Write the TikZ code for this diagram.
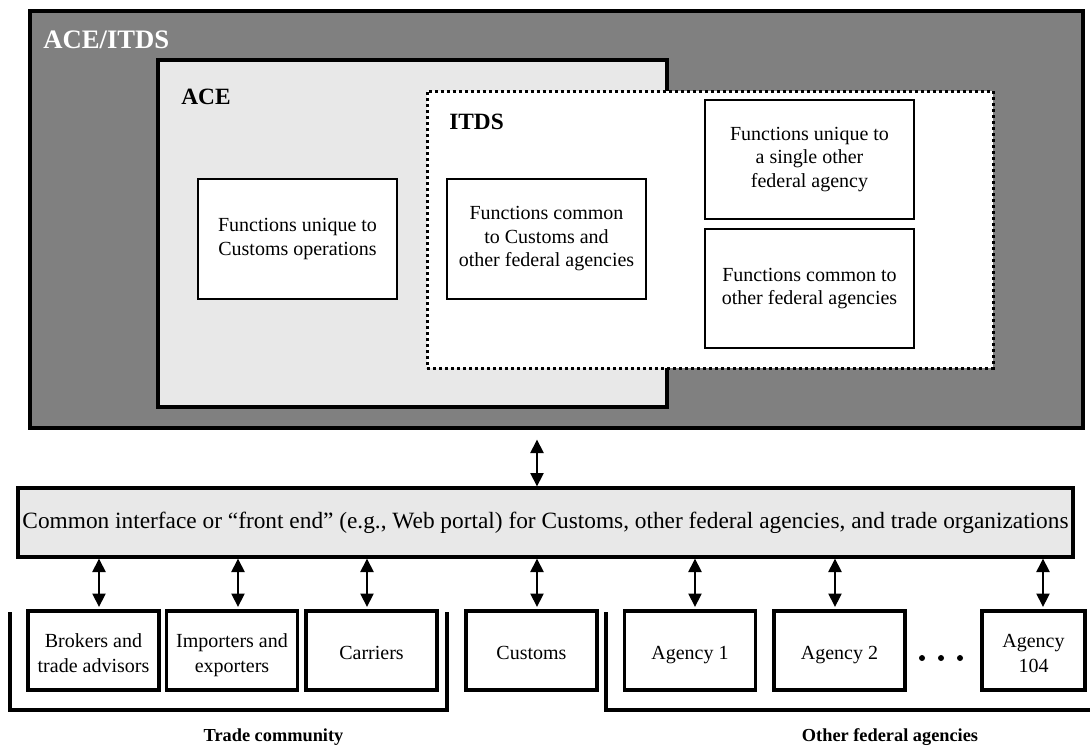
\documentclass[tikz,border=0pt]{standalone}
\usepackage{fontspec}
\setmainfont{Liberation Serif}
\usetikzlibrary{arrows.meta}

\definecolor{darkfill}{HTML}{808080}
\definecolor{lightfill}{HTML}{E8E8E8}
\newcommand{\tophi}{\rule{0pt}{13.8pt}}
\newcommand{\botlo}{\rule[-3pt]{0pt}{3pt}}

\begin{document}
\begin{tikzpicture}[x=0.6pt, y=-0.6pt,
    thickbox/.style={draw, line width=2pt, inner sep=0pt},
    funcbox/.style={draw, fill=white, line width=0.7pt, align=center, inner sep=0pt,
      font=\fontsize{12}{14.1}\selectfont},
    partbox/.style={thickbox, fill=white, align=center, minimum width=78.6pt,
      minimum height=47.4pt, font=\fontsize{12}{15}\selectfont},
    link/.style={{Triangle[width=8pt,length=8pt]}-{Triangle[width=8pt,length=8pt]},
      line width=0.8pt},
    bracket/.style={line width=2.4pt},
    title/.style={anchor=base west, inner sep=0pt, font=\bfseries\fontsize{14}{16}\selectfont},
    group/.style={font=\bfseries\fontsize{11}{13}\selectfont}]
  \useasboundingbox (0,0) rectangle (1090,749);

  % ACE/ITDS system
  \node[thickbox, fill=darkfill, minimum width=631.8pt, minimum height=250.2pt]
    (aceitds) at (556.5,219.5) {};
  \node[title, text=white, font=\bfseries\fontsize{16}{18}\selectfont] (aceitdslbl) at (43,48) {ACE/ITDS};

  % ACE
  \node[thickbox, fill=lightfill, minimum width=305.4pt, minimum height=208.2pt]
    (ace) at (412.5,233.5) {};
  \node[title] (acelbl) at (181,104) {ACE};

  % ITDS
  \node[draw, fill=white, line width=1.8pt, dash pattern=on 1.8pt off 1.8pt, inner sep=0pt,
    minimum width=339.6pt, minimum height=166.2pt] (itds) at (710,229.5) {};
  \node[title] (itdslbl) at (449,129) {ITDS};

  % Functions
  \node[funcbox, minimum width=119.4pt, minimum height=72pt] (uniq) at (297.5,239)
    {Functions unique to\\Customs operations};
  \node[funcbox, minimum width=119.4pt, minimum height=72pt] (common) at (546.5,239)
    {Functions common\\to Customs and\\other federal agencies};
  \node[funcbox, minimum width=125.4pt, minimum height=71.4pt] (single) at (809.5,159.5)
    {Functions unique to\\a single other\\federal agency};
  \node[funcbox, minimum width=125.4pt, minimum height=71.4pt] (othercommon) at (809.5,288.5)
    {Functions common to\\other federal agencies};

  % Front end
  \node[thickbox, fill=lightfill, minimum width=633pt, minimum height=41.4pt,
    font=\fontsize{14}{16}\selectfont] (iface) at (545.5,522.5)
    {Common interface or ``front end'' (e.g., Web portal) for Customs, other federal agencies, and trade organizations};
  \draw[link, shorten <=6pt] (aceitds.south -| 537,0) -- (iface.north -| 537,0);

  % Users
  \node[partbox] (brokers) at (93.5,650.5) {\tophi Brokers and\\trade advisors\botlo};
  \node[partbox] (importers) at (232,650.5) {\tophi Importers and\\exporters\botlo};
  \node[partbox] (carriers) at (371.5,650.5) {\tophi Carriers\botlo};
  \node[partbox] (customs) at (531.5,650.5) {\tophi Customs\botlo};
  \node[partbox] (agencyA) at (690,650.5) {\tophi Agency 1\botlo};
  \node[partbox] (agencyB) at (839.5,650.5) {\tophi Agency 2\botlo};
  \node[partbox, minimum width=61.8pt] (agencyC) at (1033.5,650.5) {\tophi Agency\\104\botlo};

  \foreach \b/\x in {brokers/99, importers/238, carriers/367, customs/537,
                     agencyA/695, agencyB/835, agencyC/1043}
    \draw[link, shorten >=1.5pt] (iface.south -| \x,0) -- (\b.north -| \x,0);

  % More agencies
  \fill (922,658) circle (1.8pt) (941,658) circle (1.8pt) (960,658) circle (1.8pt);

  % Groups
  \draw[bracket] (10,612) |- (447,710) -- (447,612);
  \draw[bracket] (606,612) |- (1090,710);
  \node[group] (trade) at (273.5,737) {Trade community};
  \node[group] (federal) at (890,737) {Other federal agencies};
\end{tikzpicture}
\end{document}
